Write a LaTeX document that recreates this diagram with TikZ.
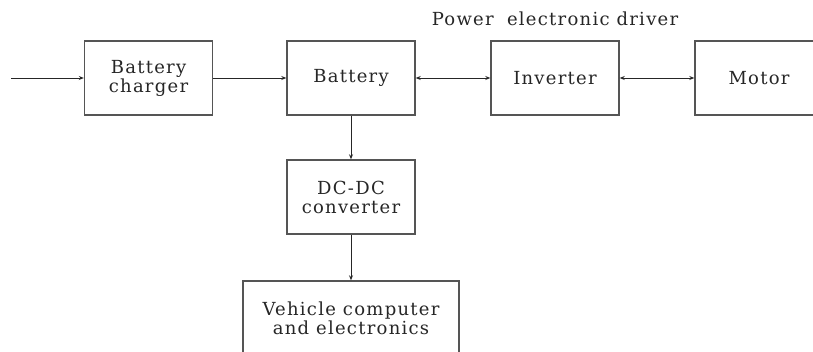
\documentclass[tikz,border=0pt]{standalone}
\usepackage{fontspec}
\setmainfont{DejaVu Serif}[LetterSpace=7]
\usetikzlibrary{arrows.meta}
\definecolor{ink}{HTML}{262626}
\definecolor{edge}{HTML}{555555}
\tikzset{
  blk/.style={draw=edge, line width=1.4pt, minimum width=128pt, minimum height=74pt,
    inner sep=0pt, align=center, text=ink, font=\fontsize{18}{19}\selectfont},
  conn/.style={draw=ink, line width=0.9pt, -{Stealth[length=5pt,width=4pt]}},
  bconn/.style={draw=ink, line width=0.9pt, {Stealth[length=5pt,width=4pt]}-{Stealth[length=5pt,width=4pt]}}
}
\begin{document}
\begin{tikzpicture}[x=1pt,y=-1pt]
\useasboundingbox (0,0) rectangle (813,351);
\clip (0,0) rectangle (813,351);
\node[blk] (chg) at (148.5,78) {Battery\\charger};
\node[blk] (bat) at (351,78) {Battery};
\node[blk] (inv) at (555,78) {Inverter};
\node[blk] (mot) at (759,78) {Motor};
\node[blk] (dcdc) at (351,197) {DC-DC\\converter};
\node[blk, minimum width=216pt] (veh) at (351,318) {Vehicle computer\\and electronics};
\node[text=ink, font=\fontsize{18}{19}\selectfont, inner sep=0pt, anchor=center] (title) at (555,19) {Power\hspace{0.35em} electronic driver};
\coordinate (in) at (11,78);
\draw[conn] (in) -- (chg.west);
\draw[conn] (chg.east) -- (bat.west);
\draw[bconn] (bat.east) -- (inv.west);
\draw[bconn] (inv.east) -- (mot.west);
\draw[conn] (bat.south) -- (dcdc.north);
\draw[conn] (dcdc.south) -- (veh.north);
\end{tikzpicture}
\end{document}
